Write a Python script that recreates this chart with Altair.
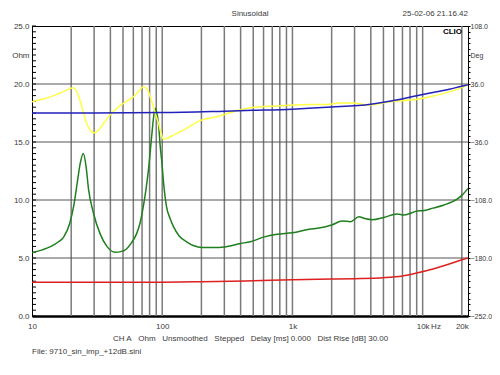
import altair as alt
import pandas as pd

# ---- data ----
green_f = [10, 12, 14, 16, 17.5, 19.5, 21, 22.2, 23.5, 24.8, 26, 27.2, 29.6, 33.3, 37.6, 43.5, 48,
           53.4, 58, 63.6, 67.5, 71.5, 75, 78.4, 83, 86, 88.3, 90.5, 93.6, 96.6, 99.5, 102, 108,
           115, 122, 135, 154, 175, 202, 250, 300, 400, 475, 600, 760, 1000, 1374, 1550, 2000,
           2410, 2790, 3240, 3600, 4100, 5040, 6390, 7180, 9100, 10000, 12000, 14600, 18500,
           20000, 22300]
green_ohm = [5.45, 5.7, 6.0, 6.4, 6.8, 8.0, 9.6, 11.4, 13.2, 14.0, 12.9, 10.9, 8.9, 7.1, 6.0, 5.5,
             5.55, 5.8, 6.3, 7.1, 8.0, 9.4, 10.9, 12.6, 15.5, 17.2, 17.9, 17.6, 16.6, 14.6, 13.2,
             11.7, 9.4, 8.4, 7.7, 6.9, 6.4, 6.05, 5.9, 5.9, 5.95, 6.25, 6.4, 6.8, 7.05, 7.18, 7.5,
             7.56, 7.84, 8.19, 8.13, 8.56, 8.4, 8.3, 8.5, 8.8, 8.7, 9.05, 9.08, 9.3, 9.57, 10.1,
             10.4, 11.0]

red_f = [10, 100, 200, 500, 1000, 2000, 3000, 5000, 7000, 9000, 12000, 16000, 20000, 22300]
red_ohm = [2.9, 2.92, 2.95, 3.04, 3.12, 3.18, 3.22, 3.3, 3.45, 3.7, 4.05, 4.48, 4.85, 5.0]

blue_f = [10, 30, 100, 300, 500, 1000, 2000, 4000, 6000, 9000, 12000, 16000, 20000, 22300]
blue_deg = [0, 0, 0.5, 2.3, 3.3, 4.8, 7.3, 11, 15.5, 21.5, 25.5, 29.5, 33.3, 35]

yellow_f = [10, 12, 13.8, 16, 18, 19.6, 20.8, 21.8, 23.4, 25, 26.3, 28, 29.6, 31.5, 33.3, 36,
            39.7, 45, 50.3, 60, 66, 71.5, 75, 78.4, 82, 85.5, 89.5, 93.6, 98, 102, 110, 122,
            154, 195, 262, 353, 475, 760, 1370, 1950, 2330, 2950, 3830, 5600, 9100, 11400,
            16200, 20000, 22300]
yellow_deg = [14, 17, 20, 24, 27.5, 30.3, 31.4, 28, 15.4, -1, -13, -21, -24.5, -23, -19, -11.5,
              -2.5, 6, 12, 20.2, 27, 32.7, 31, 26.5, 17, 7.9, -3, -12.8, -25, -32.7, -31, -27.4,
              -19, -9.5, -4.6, 1.6, 6.5, 8.7, 10.5, 11, 12.5, 12.3, 9.8, 14, 17, 20.2, 26.5,
              31.5, 35.5]

grid_freqs = [20, 30, 40, 50, 60, 70, 80, 90, 100, 200, 300, 400, 500, 600, 700, 800, 900,
              1000, 2000, 3000, 4000, 5000, 6000, 7000, 8000, 9000, 10000, 20000]
grid_ohm = [5, 10, 15, 20]
minor_ohm = [i * 0.5 for i in range(51)]
x_tick_values = [10, 100, 1000, 10000, 20000]
left_values = [0, 5, 10, 15, 20, 22.5, 25]
right_values = [round(-252 + 7.2 * k, 1) for k in range(51)]

title_text = "Sinusoidal"
date_text = "25-02-06 21.16.42"
brand_text = "CLIO"
hz_text = "Hz"
sp = "\u00a0\u00a0\u00a0"
info_text = sp.join(["CH A", "Ohm", "Unsmoothed", "Stepped", "Delay [ms] 0.000",
                     "Dist Rise [dB] 30.00"])
file_text = "File: 9710_sin_imp_+12dB.sini"

FONT = "Liberation Sans"
TXT = "#3a3a3a"

xscale = alt.Scale(type="log", domain=[10, 22300], nice=False)
ohm_scale = alt.Scale(domain=[0, 25], nice=False, zero=False)
deg_scale = alt.Scale(domain=[-252, 108], nice=False, zero=False)

x_axis = alt.Axis(values=x_tick_values, title=None, grid=False, ticks=False,
                  labelExpr="datum.value >= 1000 ? format(datum.value/1000, 'd') + 'k' : format(datum.value, 'd')",
                  labelFlush=False, labelOverlap=False, labelPadding=6, labelFont=FONT,
                  labelFontSize=8, labelColor=TXT, domainColor="black", domainWidth=2.5)
ohm_axis = alt.Axis(values=left_values, title=None, grid=False, ticks=False, orient="left",
                    labelExpr="datum.value == 22.5 ? 'Ohm' : format(datum.value, '.1f')",
                    labelFlush=False, labelOverlap=False, labelPadding=3, labelFont=FONT,
                    labelFontSize=8, labelColor=TXT, domainColor="black", domainWidth=1)
deg_axis = alt.Axis(values=right_values, title=None, grid=False, ticks=True, tickSize=2,
                    tickColor="black", orient="right",
                    labelExpr="abs(datum.value - 72) < 0.01 ? 'Deg' : (abs(datum.value + 252) % 72 < 0.01 || abs(datum.value + 252) % 72 > 71.99 ? format(datum.value, '.1f') : '')",
                    labelFlush=False, labelOverlap=False, labelPadding=0, labelFont=FONT,
                    labelFontSize=7, labelColor=TXT, domainColor="black", domainWidth=1)

vgrid = alt.Chart(pd.DataFrame({"f": grid_freqs})).mark_rule(
    color="#7a7a7a", strokeWidth=1.5).encode(x=alt.X("f:Q", scale=xscale, axis=x_axis))
hgrid = alt.Chart(pd.DataFrame({"v": grid_ohm})).mark_rule(
    color="#555555", strokeWidth=1).encode(y=alt.Y("v:Q", scale=ohm_scale, axis=ohm_axis))
minor = alt.Chart(pd.DataFrame({"v": minor_ohm})).mark_rule(
    color="black", strokeWidth=1).encode(
    y=alt.Y("v:Q", scale=ohm_scale, axis=ohm_axis), x=alt.value(0), x2=alt.value(4))


def line(f, v, color, scale, axis):
    df = pd.DataFrame({"f": f, "v": v})
    return alt.Chart(df).mark_line(color=color, strokeWidth=1.5, clip=True,
                                   interpolate="monotone").encode(
        x=alt.X("f:Q", scale=xscale, axis=x_axis),
        y=alt.Y("v:Q", scale=scale, axis=axis))


green = line(green_f, green_ohm, "#1f7f1f", ohm_scale, ohm_axis)
red = line(red_f, red_ohm, "#dd2020", ohm_scale, ohm_axis)
yellow = line(yellow_f, yellow_deg, "#ffff44", deg_scale, deg_axis)
blue = line(blue_f, blue_deg, "#2222b8", deg_scale, deg_axis)


def label(txt, x, y, align="left", bold=False):
    return alt.Chart(pd.DataFrame({"t": [txt]})).mark_text(
        align=align, baseline="middle", font=FONT, fontSize=8, color=TXT if not bold else "black",
        fontWeight="bold" if bold else "normal").encode(
        text="t:N", x=alt.value(x), y=alt.value(y))


texts = [
    label(title_text, 218, -12, "center"),
    label(date_text, 436, -12, "right"),
    label(brand_text, 430, 6, "right", bold=True),
    label(hz_text, 404, 301, "center"),
    label(info_text, 81, 313, "left"),
    label(file_text, 0, 326, "left"),
]

ohm_group = alt.layer(vgrid, hgrid, minor, green, red, *texts)
deg_group = alt.layer(yellow, blue)

chart = alt.layer(ohm_group, deg_group).resolve_scale(y="independent").properties(
    width=436, height=290,
    autosize=alt.AutoSizeParams(type="none"),
    padding={"left": 24, "top": 18, "right": 24, "bottom": 51},
    background="white",
).configure_view(stroke="black", strokeWidth=1)

chart.save("out.html", embed_options={"renderer": "svg", "actions": False})
